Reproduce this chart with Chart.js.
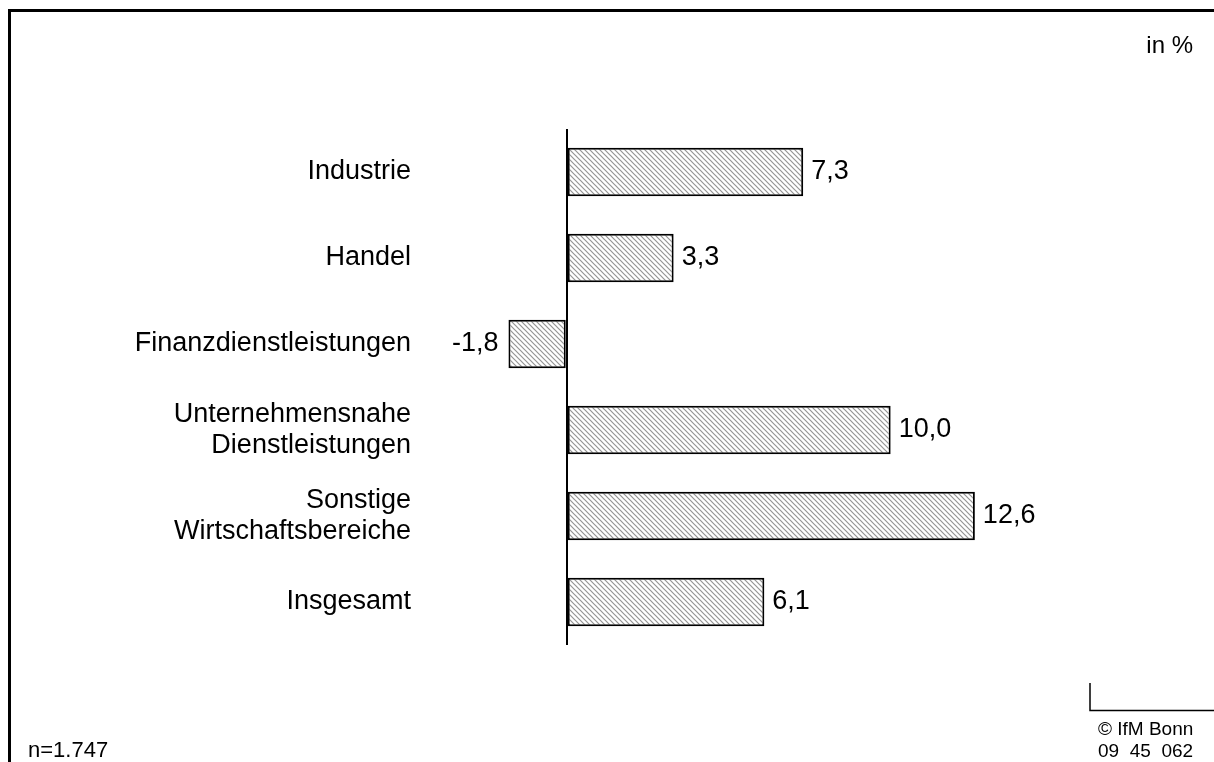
<!DOCTYPE html>
<html lang="de">
<head>
<meta charset="utf-8">
<title>Veränderung nach Wirtschaftsbereichen</title>
<script src="https://cdn.jsdelivr.net/npm/chart.js@4.4.1/dist/chart.umd.min.js"></script>
<style>
  html, body { margin: 0; padding: 0; background: #fff; }
  #wrap { position: relative; width: 1214px; height: 762px; }
</style>
</head>
<body>
<div id="wrap"><canvas id="sectorChart"></canvas></div>
<script>
  'use strict';

  // Chart data
  const categories = [
    'Industrie',
    'Handel',
    'Finanzdienstleistungen',
    ['Unternehmensnahe', 'Dienstleistungen'],
    ['Sonstige', 'Wirtschaftsbereiche'],
    'Insgesamt'
  ];
  const values = [7.3, 3.3, -1.8, 10.0, 12.6, 6.1];

  const unitLabel = 'in %';
  const sampleLabel = 'n=1.747';
  const sourceLines = ['© IfM Bonn', '09  45  062'];

  const fontFamily = '"Liberation Sans", Arial, Helvetica, sans-serif';

  /**
   * Helper: diagonal hatch pattern like the original bars.
   */
  function makeHatch() {
    const size = 5;
    const tile = document.createElement('canvas');
    tile.width = size;
    tile.height = size;
    const t = tile.getContext('2d');
    t.fillStyle = '#fff';
    t.fillRect(0, 0, size, size);
    t.strokeStyle = '#959595';
    t.lineWidth = 1.2;
    t.beginPath();
    t.moveTo(-1, -1); t.lineTo(size + 1, size + 1);
    t.moveTo(-1, size - 1); t.lineTo(1, size + 1);
    t.moveTo(size - 1, -1); t.lineTo(size + 1, 1);
    t.stroke();
    return t.createPattern(tile, 'repeat');
  }

  const formatValue = v => v.toFixed(1).replace('.', ',');

  // Value labels at the end of each bar
  const valueLabels = {
    id: 'valueLabels',
    afterDatasetsDraw(chart) {
      const ctx = chart.ctx;
      const meta = chart.getDatasetMeta(0);
      ctx.save();
      ctx.font = '27px ' + fontFamily;
      ctx.fillStyle = '#000';
      ctx.textBaseline = 'middle';
      meta.data.forEach((bar, i) => {
        const v = values[i];
        if (v >= 0) {
          ctx.textAlign = 'left';
          ctx.fillText(formatValue(v), bar.x + 8, bar.y);
        } else {
          ctx.textAlign = 'right';
          ctx.fillText(formatValue(v), bar.x - 10, bar.y);
        }
      });
      ctx.restore();
    }
  };

  // Frame, unit note, sample size and source box
  const pageDecor = {
    id: 'pageDecor',
    afterDraw(chart) {
      const ctx = chart.ctx;
      ctx.save();
      ctx.strokeStyle = '#000';
      ctx.lineWidth = 3;
      ctx.beginPath();
      ctx.moveTo(9.5, 762);
      ctx.lineTo(9.5, 10.5);
      ctx.lineTo(1214, 10.5);
      ctx.stroke();

      ctx.lineWidth = 1.5;
      ctx.beginPath();
      ctx.moveTo(1090, 683);
      ctx.lineTo(1090, 710.5);
      ctx.lineTo(1214, 710.5);
      ctx.stroke();

      ctx.fillStyle = '#000';
      ctx.textBaseline = 'alphabetic';
      ctx.font = '24px ' + fontFamily;
      ctx.textAlign = 'right';
      ctx.fillText(unitLabel, 1193, 53);

      ctx.textAlign = 'left';
      ctx.font = '22px ' + fontFamily;
      ctx.fillText(sampleLabel, 28, 757);

      ctx.font = '19px ' + fontFamily;
      ctx.fillText(sourceLines[0], 1098, 735);
      ctx.fillText(sourceLines[1], 1098, 757);
      ctx.restore();
    }
  };

  const canvas = document.getElementById('sectorChart');
  const ctx = canvas.getContext('2d');

  canvas.chartInstance = new Chart(ctx, {
    type: 'bar',
    data: {
      labels: categories,
      datasets: [{
        data: values,
        backgroundColor: makeHatch(),
        borderColor: '#000',
        borderWidth: 2,
        borderSkipped: false,
        categoryPercentage: 1,
        barPercentage: 0.565
      }]
    },
    options: {
      indexAxis: 'y',
      responsive: true,
      maintainAspectRatio: false,
      animation: false,
      layout: {
        padding: { top: 129, bottom: 117, left: 0, right: 129 }
      },
      plugins: {
        legend: { display: false },
        tooltip: { enabled: false }
      },
      scales: {
        x: {
          min: -4.5,
          max: 16,
          border: { display: false },
          ticks: { display: false, stepSize: 1 },
          grid: {
            drawTicks: false,
            color: c => (c.tick && c.tick.value === 0 ? '#000' : 'rgba(0,0,0,0)'),
            lineWidth: c => (c.tick && c.tick.value === 0 ? 2 : 0)
          },
          afterFit: s => { s.height = 0; }
        },
        y: {
          border: { display: false },
          grid: { display: false, drawTicks: false },
          ticks: {
            autoSkip: false,
            padding: 10,
            color: '#000',
            font: { family: fontFamily, size: 27, lineHeight: 1.12 }
          },
          afterFit: s => { s.width = 421; }
        }
      }
    },
    plugins: [valueLabels, pageDecor]
  });
</script>
</body>
</html>
